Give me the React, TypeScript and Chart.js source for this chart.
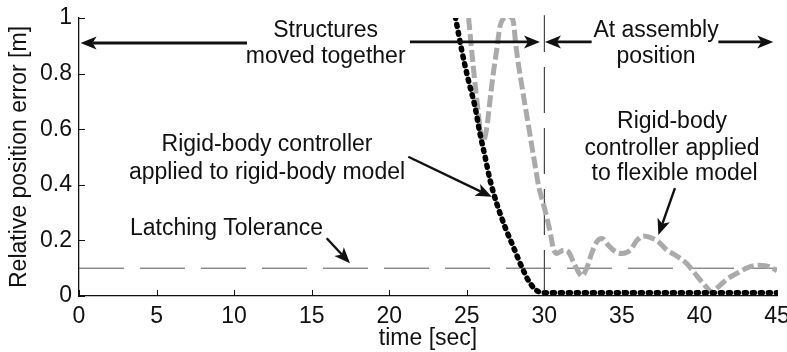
import { useEffect, useRef } from 'react';
import { Chart, registerables } from 'chart.js';

Chart.register(...registerables);

// ---- data ----
const rigidTime = [24.26, 24.67, 25.1, 25.53, 25.85, 26.18, 26.5, 26.93, 27.46, 28.0, 28.54, 29.08, 29.61, 30.04, 32, 35, 38, 41, 45];
const rigidError = [1.005, 0.885, 0.777, 0.681, 0.585, 0.501, 0.417, 0.333, 0.249, 0.177, 0.105, 0.046, 0.016, 0.012, 0.012, 0.012, 0.012, 0.012, 0.012];

const flexTime = [25.12, 25.25, 25.42, 25.6, 25.77, 25.9, 26.03, 26.18, 26.33, 26.5, 26.71, 26.93, 27.14, 27.4, 27.74, 28.0, 28.15, 28.35, 28.56, 28.77, 28.99, 29.2, 29.42, 29.64, 29.9, 30.15, 30.39, 30.58, 30.8, 31.25, 31.55, 31.87, 32.19, 32.41, 32.73, 33.05, 33.38, 33.72, 34.02, 34.45, 34.99, 35.55, 35.95, 36.4, 36.81, 37.35, 37.9, 38.53, 39.18, 39.71, 40.25, 40.8, 41.22, 41.76, 42.4, 43.15, 43.9, 44.55, 45.0];
const flexError = [1.0, 0.921, 0.825, 0.729, 0.645, 0.585, 0.555, 0.573, 0.621, 0.705, 0.801, 0.885, 0.969, 1.0, 1.005, 0.987, 0.909, 0.825, 0.753, 0.681, 0.609, 0.537, 0.465, 0.393, 0.339, 0.285, 0.226, 0.171, 0.153, 0.165, 0.159, 0.123, 0.087, 0.072, 0.1, 0.153, 0.195, 0.207, 0.189, 0.165, 0.153, 0.165, 0.199, 0.216, 0.211, 0.195, 0.165, 0.144, 0.117, 0.081, 0.045, 0.016, 0.033, 0.06, 0.081, 0.103, 0.111, 0.105, 0.091];

const toleranceTime = [0, 45];
const toleranceError = [0.1, 0.1];

const assemblyTime = [30, 30];
const assemblyError = [0, 1.01];

const xTickValues = [0, 5, 10, 15, 20, 25, 30, 35, 40, 45];
const xTickLabels = ['0', '5', '10', '15', '20', '25', '30', '35', '40', '45'];
const yTickValues = [0, 0.2, 0.4, 0.6, 0.8, 1];
const yTickLabels = ['0', '0.2', '0.4', '0.6', '0.8', '1'];

const xTitle = 'time [sec]';
const yTitle = 'Relative position error [m]';

// ---- annotations (in data units) ----
const noteTexts = [
  { text: 'Structures', x: 15.9, y: 0.933 },
  { text: 'moved together', x: 15.9, y: 0.838 },
  { text: 'At assembly', x: 37.2, y: 0.933 },
  { text: 'position', x: 37.2, y: 0.838 },
  { text: 'Rigid-body controller', x: 12.12, y: 0.522 },
  { text: 'applied to rigid-body model', x: 12.12, y: 0.421 },
  { text: 'Latching Tolerance', x: 9.51, y: 0.219 },
  { text: 'Rigid-body', x: 38.23, y: 0.604 },
  { text: 'controller applied', x: 38.23, y: 0.507 },
  { text: 'to flexible model', x: 38.4, y: 0.417 },
];

const noteArrows = [
  { x0: 10.83, y0: 0.91, x1: 0.1, y1: 0.91, w: 2.8 },
  { x0: 21.34, y0: 0.914, x1: 29.72, y1: 0.914, w: 2.8 },
  { x0: 33.05, y0: 0.914, x1: 30.04, y1: 0.914, w: 2.8 },
  { x0: 41.22, y0: 0.914, x1: 44.76, y1: 0.914, w: 2.8 },
  { x0: 21.23, y0: 0.501, x1: 26.61, y1: 0.357, w: 2.4 },
  { x0: 15.97, y0: 0.2076, x1: 17.47, y1: 0.1176, w: 2.4 },
  { x0: 38.42, y0: 0.388, x1: 37.35, y1: 0.219, w: 2.4 },
];

const FONT = "'Liberation Sans', Arial, Helvetica, sans-serif";

const toXY = (xs: number[], ys: number[]) => xs.map((x, i) => ({ x, y: ys[i] }));

const annotationPlugin = {
  id: 'notes',
  afterDraw(chart: any) {
    const { ctx, scales, chartArea } = chart;
    const xs = scales.x;
    const ys = scales.y;
    ctx.save();
    // inward ticks
    ctx.strokeStyle = '#111';
    ctx.lineWidth = 1;
    ctx.beginPath();
    xTickValues.forEach((v) => {
      const px = Math.round(xs.getPixelForValue(v)) + 0.5;
      ctx.moveTo(px, chartArea.bottom);
      ctx.lineTo(px, chartArea.bottom - 6);
    });
    yTickValues.forEach((v) => {
      const py = Math.round(ys.getPixelForValue(v)) + 0.5;
      ctx.moveTo(chartArea.left, py);
      ctx.lineTo(chartArea.left + 6, py);
    });
    ctx.stroke();

    // texts
    ctx.fillStyle = '#111';
    ctx.font = `23px ${FONT}`;
    ctx.textAlign = 'center';
    ctx.textBaseline = 'alphabetic';
    noteTexts.forEach((n) => {
      ctx.fillText(n.text, xs.getPixelForValue(n.x), ys.getPixelForValue(n.y));
    });

    // arrows
    noteArrows.forEach((a) => {
      const x0 = xs.getPixelForValue(a.x0);
      const y0 = ys.getPixelForValue(a.y0);
      const x1 = xs.getPixelForValue(a.x1);
      const y1 = ys.getPixelForValue(a.y1);
      const ang = Math.atan2(y1 - y0, x1 - x0);
      const hl = 16;
      const hw = 6.5;
      const bx = x1 - Math.cos(ang) * (hl - 4);
      const by = y1 - Math.sin(ang) * (hl - 4);
      ctx.strokeStyle = '#111';
      ctx.lineWidth = a.w;
      ctx.beginPath();
      ctx.moveTo(x0, y0);
      ctx.lineTo(bx, by);
      ctx.stroke();
      ctx.fillStyle = '#111';
      ctx.beginPath();
      ctx.moveTo(x1, y1);
      ctx.lineTo(x1 - Math.cos(ang) * hl - Math.sin(ang) * hw, y1 - Math.sin(ang) * hl + Math.cos(ang) * hw);
      ctx.lineTo(bx, by);
      ctx.lineTo(x1 - Math.cos(ang) * hl + Math.sin(ang) * hw, y1 - Math.sin(ang) * hl - Math.cos(ang) * hw);
      ctx.closePath();
      ctx.fill();
    });
    ctx.restore();
  },
};

export default function App() {
  const ref = useRef<HTMLCanvasElement | null>(null);

  useEffect(() => {
    if (!ref.current) return;
    const chart = new Chart(ref.current, {
      type: 'line',
      data: {
        datasets: [
          {
            label: 'Rigid-body model',
            data: toXY(rigidTime, rigidError),
            borderColor: '#000',
            borderWidth: 5.5,
            borderDash: [2, 6],
            borderCapStyle: 'round',
            pointRadius: 0,
            cubicInterpolationMode: 'monotone',
            order: 1,
          },
          {
            label: 'Flexible model',
            data: toXY(flexTime, flexError),
            borderColor: '#aaaaaa',
            borderWidth: 5,
            borderDash: [12, 4],
            pointRadius: 0,
            cubicInterpolationMode: 'monotone',
            order: 2,
          },
          {
            label: 'Latching tolerance',
            data: toXY(toleranceTime, toleranceError),
            borderColor: '#555',
            borderWidth: 1,
            borderDash: [45, 16],
            pointRadius: 0,
            order: 3,
          },
          {
            label: 'Assembly',
            data: toXY(assemblyTime, assemblyError),
            borderColor: '#222',
            borderWidth: 1,
            borderDash: [46, 15],
            pointRadius: 0,
            order: 4,
            clip: false as any,
          },
        ],
      },
      options: {
        animation: false,
        responsive: false,
        layout: { padding: { top: 18, right: 10, left: 0, bottom: 0 } },
        plugins: { legend: { display: false }, tooltip: { enabled: false } },
        scales: {
          x: {
            type: 'linear',
            min: 0,
            max: 45,
            afterBuildTicks: (s: any) => {
              s.ticks = xTickValues.map((v) => ({ value: v }));
            },
            afterFit: (s: any) => {
              s.height = 56;
              s.paddingLeft = 0;
              s.paddingRight = 0;
            },
            grid: { display: false, drawTicks: false },
            border: { display: true, color: '#111', width: 1.3 },
            ticks: {
              color: '#111',
              font: { family: FONT, size: 23 },
              padding: 7,
              maxRotation: 0,
              autoSkip: false,
              callback: (_v: any, i: number) => xTickLabels[i],
            },
            title: {
              display: true,
              text: xTitle,
              color: '#111',
              font: { family: FONT, size: 23 },
              padding: { top: 0, bottom: 0 },
            },
          },
          y: {
            type: 'linear',
            min: 0,
            max: 1,
            afterBuildTicks: (s: any) => {
              s.ticks = yTickValues.map((v) => ({ value: v }));
            },
            afterFit: (s: any) => {
              s.width = 79;
              s.paddingTop = 0;
              s.paddingBottom = 0;
            },
            grid: { display: false, drawTicks: false },
            border: { display: true, color: '#111', width: 1.3 },
            ticks: {
              color: '#111',
              font: { family: FONT, size: 23 },
              padding: 7,
              autoSkip: false,
              callback: (_v: any, i: number) => yTickLabels[i],
            },
            title: {
              display: true,
              text: yTitle,
              color: '#111',
              font: { family: FONT, size: 23 },
              padding: { top: 6, bottom: 0 },
            },
          },
        },
      } as any,
      plugins: [annotationPlugin],
    });
    return () => chart.destroy();
  }, []);

  return (
    <div style={{ position: 'absolute', left: 0, top: 0, width: 787, height: 352, background: '#fff' }}>
      <canvas ref={ref} width={787} height={352} />
    </div>
  );
}
